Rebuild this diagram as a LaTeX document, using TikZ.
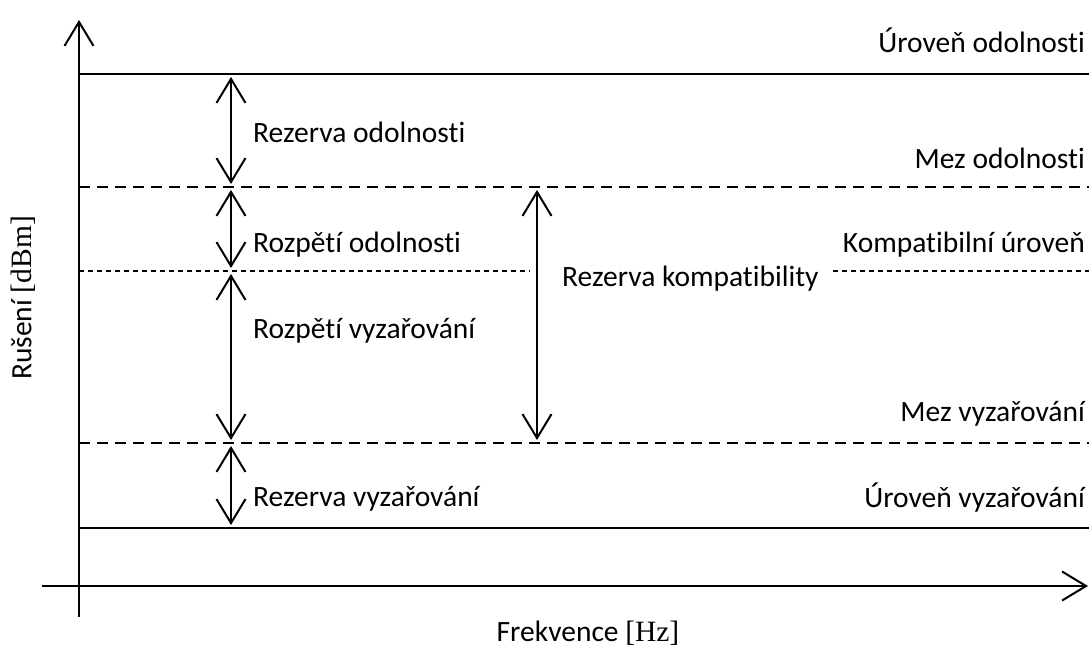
\documentclass[tikz,border=0pt]{standalone}
\usepackage{fontspec}
\setmainfont{Carlito}[Ligatures=NoCommon]
\newfontfamily\unitfont{Liberation Serif}
\usetikzlibrary{arrows.meta}
\tikzset{
  every node/.style={font=\fontsize{29.5}{35}\selectfont, inner sep=0pt},
  ln/.style={line width=2pt},
  dashln/.style={ln, dash pattern=on 11pt off 7pt},
  dotln/.style={ln, dash pattern=on 5pt off 4pt},
  barb/.tip={Straight Barb[length=24pt,width=29pt,line width=2pt]},
  axis/.style={ln, -barb},
  dbl/.style={ln, barb-barb},
  lbl/.style={anchor=base west},
  rlbl/.style={anchor=base east},
}
\begin{document}
\begin{tikzpicture}[x=1pt,y=-1pt]
\useasboundingbox (0,0) rectangle (1089,653);

% axes
\coordinate (xs) at (42,586);
\coordinate (xe) at (1088,586);
\coordinate (ys) at (79,617);
\coordinate (ye) at (79,20);
\draw[axis] (xs) -- (xe);
\draw[axis] (ys) -- (ye);

% level lines
\coordinate (imA) at (79,74);   \coordinate (imB) at (1089,74);
\coordinate (ilA) at (79,187);  \coordinate (ilB) at (1089,187);
\coordinate (cpA) at (79,271);  \coordinate (cpM) at (530,271);
\coordinate (cpN) at (833,271); \coordinate (cpB) at (1089,271);
\coordinate (elA) at (79,443);  \coordinate (elB) at (1089,443);
\coordinate (emA) at (79,528);  \coordinate (emB) at (1089,528);

\draw[ln] (imA) -- (imB);
\draw[dashln] (ilA) -- (ilB);
\draw[dotln] (cpA) -- (cpM);
\draw[dotln] (cpN) -- (cpB);
\draw[dashln] (elA) -- (elB);
\draw[ln] (emA) -- (emB);

% margin arrows
\coordinate (a1) at (231,77);  \coordinate (a2) at (231,184);
\coordinate (b1) at (231,190); \coordinate (b2) at (231,268);
\coordinate (c1) at (231,274); \coordinate (c2) at (231,440);
\coordinate (d1) at (231,446); \coordinate (d2) at (231,525);
\coordinate (k1) at (537,190); \coordinate (k2) at (537,440);
\draw[dbl] (a1) -- (a2);
\draw[dbl] (b1) -- (b2);
\draw[dbl] (c1) -- (c2);
\draw[dbl] (d1) -- (d2);
\draw[dbl] (k1) -- (k2);

% labels
\node[rlbl] (t1) at (1085,52) {Úroveň odolnosti};
\node[lbl]  (t2) at (253,142) {Rezerva odolnosti};
\node[rlbl] (t3) at (1085,168) {Mez odolnosti};
\node[lbl]  (t4) at (253,252) {Rozpětí odolnosti};
\node[rlbl] (t5) at (1085,252) {Kompatibilní úroveň};
\node[lbl]  (t6) at (562,286) {Rezerva kompatibility};
\node[lbl]  (t7) at (253,338) {Rozpětí vyzařování};
\node[rlbl] (t8) at (1085,421) {Mez vyzařování};
\node[lbl]  (t9) at (253,506) {Rezerva vyzařování};
\node[rlbl] (t10) at (1085,507) {Úroveň vyzařování};

\node[rotate=90] (ylab) at (23,298) {Rušení {\unitfont[dBm]}};
\node (xlab) at (588,633) {Frekvence {\unitfont[Hz]}};
\end{tikzpicture}
\end{document}
